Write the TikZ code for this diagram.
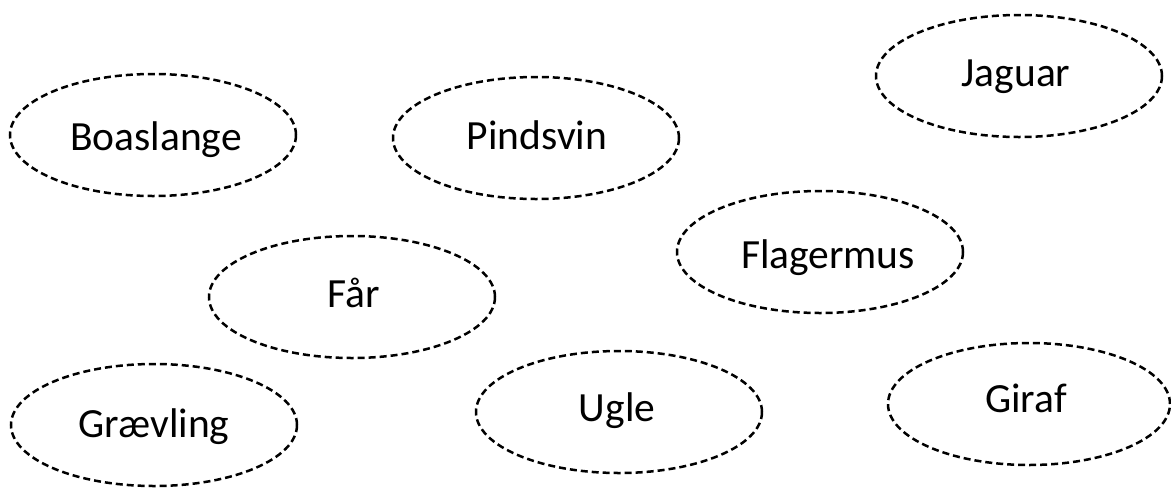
\documentclass[tikz,border=0pt]{standalone}
\usepackage{fontspec}
\setmainfont{Carlito}
\usetikzlibrary{shapes.geometric}
\begin{document}
\begin{tikzpicture}[x=1pt,y=-1pt,
  animal/.style={draw=black, ellipse, line width=2.5pt,
    dash pattern=on 7pt off 4pt, inner sep=0pt,
    minimum width=286pt, minimum height=122pt},
  word/.style={inner sep=0pt, text height=26.4pt, text depth=0pt,
    font=\fontsize{41.5}{48}\selectfont}]
\useasboundingbox (0,0) rectangle (1171,491);
\node[animal] (boa) at (153,135) {};
\node[animal] (pind) at (536,138) {};
\node[animal] (jag) at (1019,76) {};
\node[animal] (flag) at (820,252) {};
\node[animal] (faar) at (352,297) {};
\node[animal] (graev) at (154,425) {};
\node[animal] (ugle) at (619,412) {};
\node[animal, minimum width=282pt] (giraf) at (1029,404) {};
\node[word] (boat) at (156,137) {Boaslange};
\node[word] (pindt) at (537,136) {Pindsvin};
\node[word] (jagt) at (1016,73) {Jaguar};
\node[word] (flagt) at (828,255) {Flagermus};
\node[word] (faart) at (354,294.5) {Får};
\node[word] (graevt) at (154,424.5) {Grævling};
\node[word] (uglet) at (617,408.5) {Ugle};
\node[word] (graft) at (1026,399.5) {Giraf};
\end{tikzpicture}
\end{document}
